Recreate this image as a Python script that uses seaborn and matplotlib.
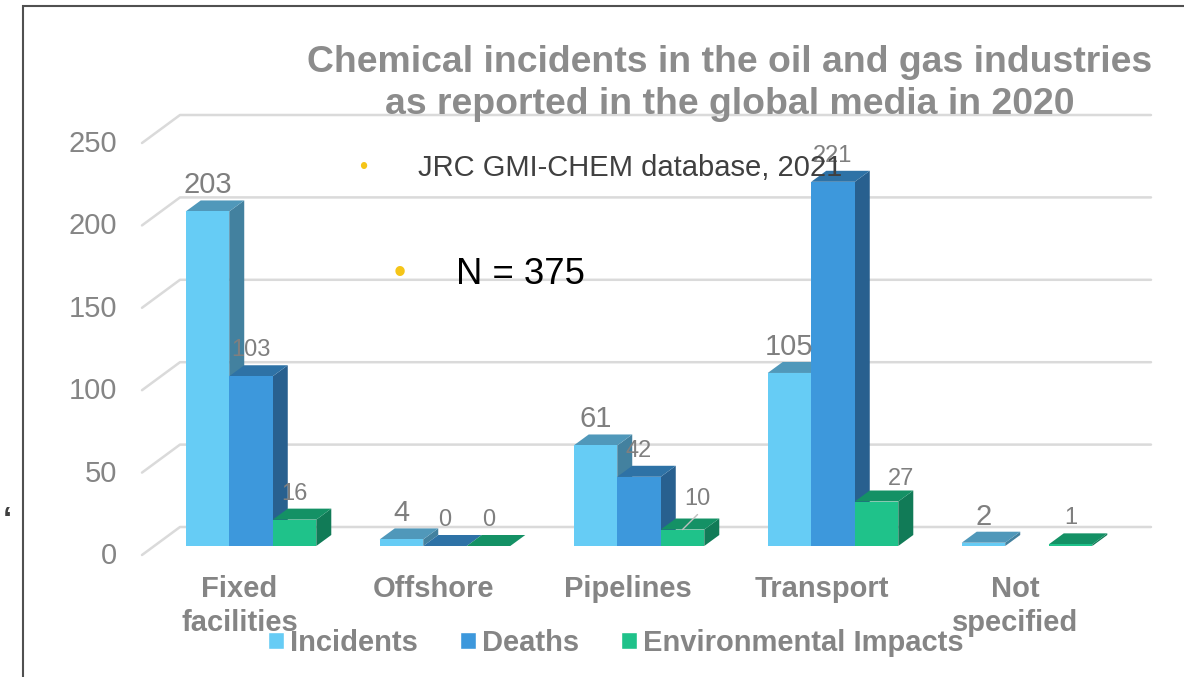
import pandas as pd
import seaborn as sns
import matplotlib.pyplot as plt
from matplotlib.patches import Polygon
from matplotlib.lines import Line2D
from matplotlib.transforms import ScaledTranslation

categories = ["Fixed\nfacilities", "Offshore", "Pipelines", "Transport", "Not\nspecified"]
incidents = [203, 4, 61, 105, 2]
deaths = [103, 0, 42, 221, None]
environmental = [16, 0, 10, 27, 1]
series_names = ["Incidents", "Deaths", "Environmental Impacts"]
y_ticks = [0, 50, 100, 150, 200, 250]

front_colors = ["#66CCF5", "#3D98DC", "#1FC28A"]
top_colors = ["#5098BA", "#2E72A6", "#149165"]
side_colors = ["#43819F", "#28608F", "#117B57"]
grey = "#858585"

W, H = 1184, 677
PX_X = 194.0          # pixels per category
PX_Y = 412 / 250      # pixels per unit


def main():
    sns.set_theme(style="white")
    plt.rcParams["font.family"] = ["Liberation Sans", "DejaVu Sans"]

    df = pd.DataFrame({
        "category": categories * 3,
        "series": sum([[s] * 5 for s in series_names], []),
        "value": incidents + deaths + environmental,
    }).dropna()

    fig = plt.figure(figsize=(W / 100, H / 100), dpi=100)
    ax = fig.add_axes([154 / W, (H - 546) / H, 970 / W, 412 / H])
    sns.barplot(
        data=df, x="category", y="value", hue="series",
        order=categories, hue_order=series_names,
        palette=dict(zip(series_names, front_colors)),
        width=0.673, gap=0, saturation=1, errorbar=None, ax=ax,
    )
    ax.set_xlim(-0.5, 4.5)
    ax.set_ylim(0, 250)
    ax.set_xlabel("")
    ax.set_ylabel("")
    ax.patch.set_alpha(0)
    sns.despine(ax=ax, left=True, bottom=True)

    # back wall grid, drawn out of the axes box
    def dx(px):
        return px / PX_X

    def dy(px):
        return px / PX_Y

    x_front = -0.5 + dx(142 - 154)
    x_back = -0.5 + dx(180 - 154)
    x_end = -0.5 + dx(1151 - 154)
    for v in y_ticks:
        ax.add_line(Line2D([x_front, x_back, x_end],
                           [v - dy(9), v + dy(19), v + dy(19)],
                           color="#DADADA", lw=1.8, clip_on=False, zorder=1,
                           solid_capstyle="round"))

    # fake 3D faces on each bar
    depth_x, depth_y = dx(15), dy(11)
    for i, cont in enumerate(ax.containers):
        for bar in cont:
            x0, w, h = bar.get_x(), bar.get_width(), bar.get_height()
            bar.set_zorder(3 + i + 0.1)
            bar.set_linewidth(0)
            bar.set_clip_on(False)
            top = [(x0, h), (x0 + w, h), (x0 + w + depth_x, h + depth_y), (x0 + depth_x, h + depth_y)]
            side = [(x0 + w, 0), (x0 + w + depth_x, depth_y), (x0 + w + depth_x, h + depth_y), (x0 + w, h)]
            ax.add_patch(Polygon(side, fc=side_colors[i], ec="none", zorder=3 + i, clip_on=False))
            ax.add_patch(Polygon(top, fc=top_colors[i], ec="none", zorder=3 + i, clip_on=False))

            # data labels, two of them were moved by hand in the original
            off_x, off_y = 0, 26
            if h == 10:
                off_x, off_y = 15, 31
            elif h == 27:
                off_x, off_y = 25, 23
            ax.annotate(f"{h:.0f}", (x0 + w / 2, h), xytext=(off_x, off_y),
                        textcoords="offset pixels", ha="center", va="center",
                        fontsize=21 if i == 0 else 17, color="#7F7F7F",
                        zorder=12, annotation_clip=False)
            if h == 10:
                ax.annotate("", (x0 + w / 2, h), xytext=(15, 15),
                            textcoords="offset pixels", zorder=12,
                            arrowprops=dict(arrowstyle="-", color="#BFBFBF", lw=1, shrinkA=0, shrinkB=0))

    # ticks
    ax.set_yticks(y_ticks)
    ax.tick_params(axis="y", length=0, pad=26.5, labelsize=21, labelcolor=grey)
    ax.tick_params(axis="x", length=0, pad=21, labelsize=21, labelcolor=grey)
    x_shift = ScaledTranslation(-11.5 / 100, 0, fig.dpi_scale_trans)
    for lab in ax.get_xticklabels():
        lab.set_fontweight("bold")
        lab.set_linespacing(1.25)
        lab.set_transform(lab.get_transform() + x_shift)
    shift = ScaledTranslation(0, -7 / 100, fig.dpi_scale_trans)
    for lab in ax.get_yticklabels():
        lab.set_transform(lab.get_transform() + shift)

    # legend
    handles, labels = ax.get_legend_handles_labels()
    ax.legend(handles, labels, ncol=3, frameon=False, loc="center",
              bbox_to_anchor=(616 / W, (H - 643) / H), bbox_transform=fig.transFigure,
              prop={"family": "Liberation Sans", "weight": "bold", "size": 21},
              labelcolor=grey, handlelength=0.55, handleheight=0.55,
              handletextpad=0.2, columnspacing=1.45).set_zorder(13)

    # title and text boxes
    fig.text(730 / W, 1 - 83.5 / H,
             "Chemical incidents in the oil and gas industries\nas reported in the global media in 2020",
             ha="center", va="center", fontsize=26.9, fontweight="bold", color="#8C8C8C",
             linespacing=1.25)
    fig.text(418 / W, 1 - 168 / H, "JRC GMI-CHEM database, 2021", ha="left", va="center",
             fontsize=21, color="#404040", zorder=11)
    fig.text(363 / W, 1 - 168 / H, "•", ha="center", va="center", fontsize=17, color="#F5C518")
    fig.text(456 / W, 1 - 274 / H, "N = 375", ha="left", va="center", fontsize=26.3, color="black")
    fig.text(400 / W, 1 - 273 / H, "•", ha="center", va="center", fontsize=25, color="#F5C518")
    fig.text(7 / W, 1 - 521 / H, "‘", ha="center", va="center", fontsize=24, fontweight="bold",
             color="#404040")

    # frame of the pasted slide
    fig.add_artist(Line2D([23 / W, 23 / W, 1], [0, 1 - 6 / H, 1 - 6 / H],
                          color="#505050", lw=1.5, solid_joinstyle="miter"))

    fig.savefig("out.png", dpi=100)


if __name__ == '__main__':
    main()
